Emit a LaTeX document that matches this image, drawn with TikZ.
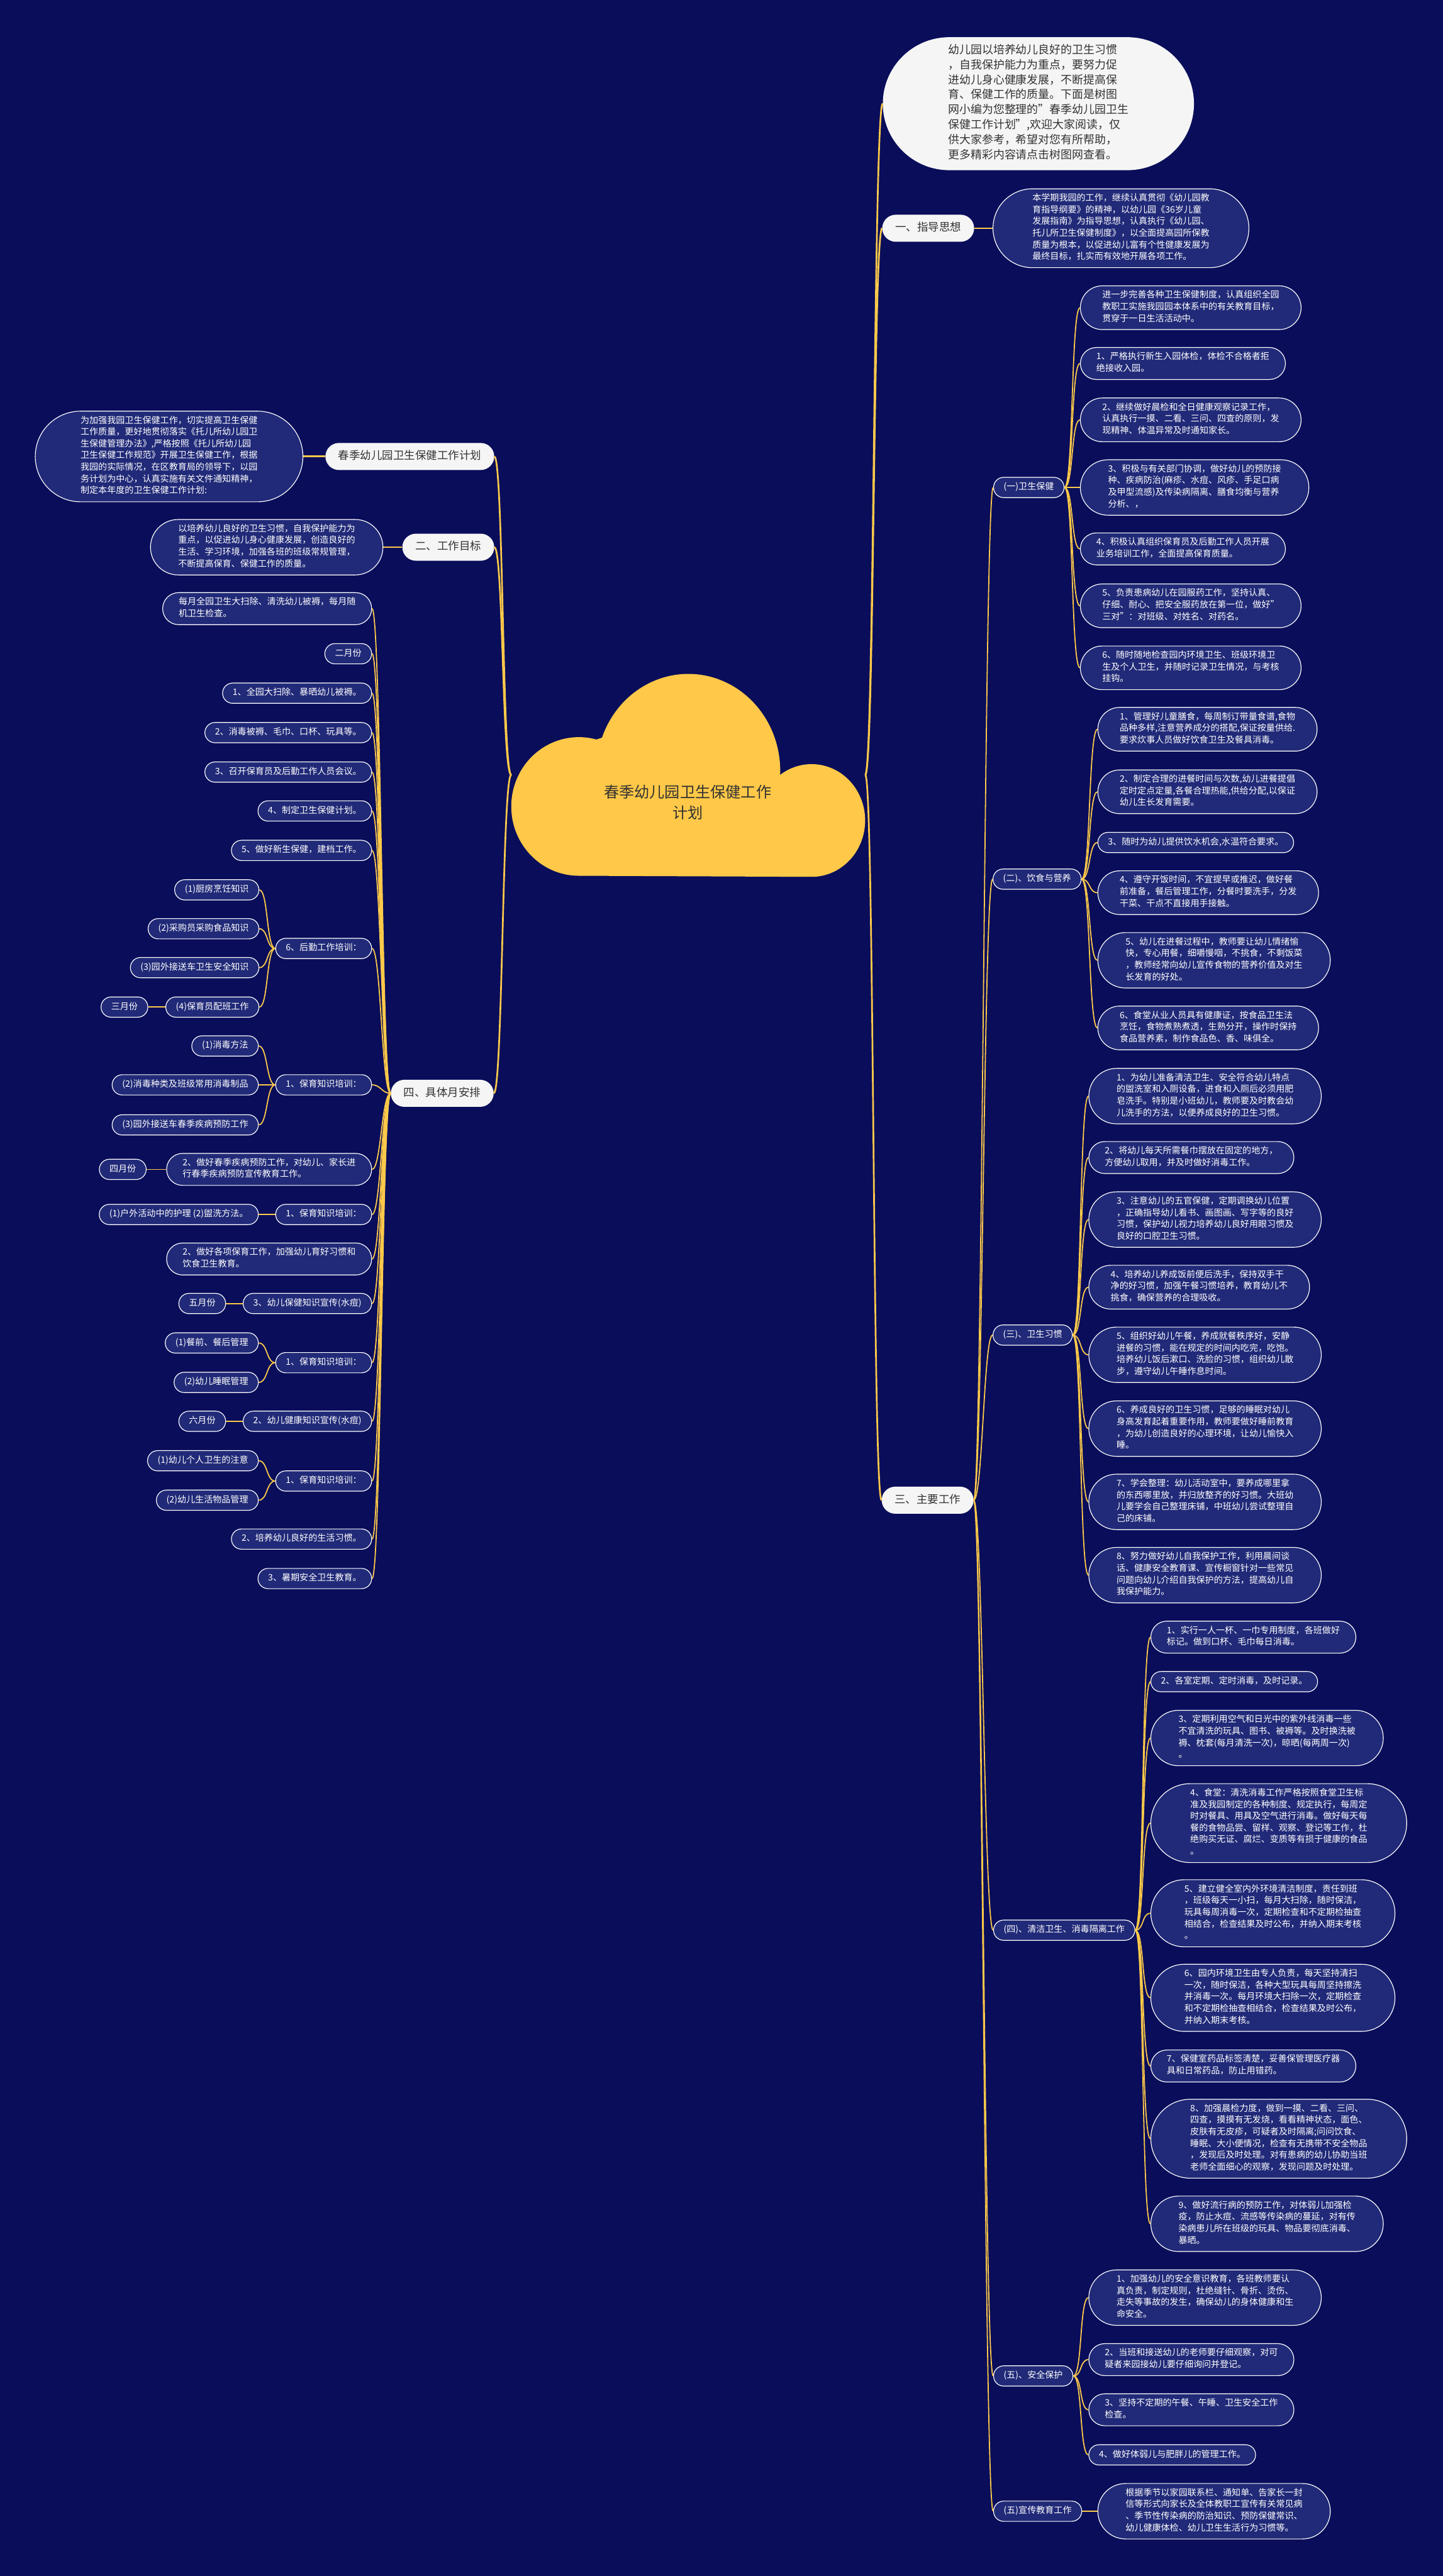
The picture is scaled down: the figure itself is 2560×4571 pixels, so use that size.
\documentclass[tikz,border=0pt]{standalone}
\usepackage{fontspec}
\setmainfont{Noto Sans CJK SC}
\definecolor{bgnavy}{RGB}{9,13,90}
\definecolor{leafblue}{RGB}{33,42,120}
\definecolor{gold}{RGB}{252,201,74}
\definecolor{cloudgold}{RGB}{255,200,72}
\definecolor{topicgray}{RGB}{245,245,245}
\definecolor{inkgray}{RGB}{51,51,51}
\tikzset{
  nlines/.style={minimum height={15.2+20.8*#1}, rounded corners={7.6+10.4*#1}, inner xsep={7.6+10.4*#1}},
  leaf/.style={rectangle, draw=white, line width=1.3pt, fill=leafblue, text=white,
    inner ysep=7.6pt, align=left, font=\fontsize{15.7}{20.8}\selectfont,
    execute at begin node=\strut, execute at end node=\strut, nlines=1},
  rleaf/.style={leaf, anchor=west},
  lleaf/.style={leaf, anchor=east},
  topic/.style={rectangle, fill=topicgray, text=inkgray, inner ysep=11pt, inner xsep=23pt,
    rounded corners=24pt, minimum height=48pt, align=left, font=\fontsize{19.5}{26}\selectfont,
    execute at begin node=\strut, execute at end node=\strut},
  intro/.style={topic, inner xsep=116pt, rounded corners=118pt, minimum height=236pt,
    font=\fontsize{20}{26.7}\selectfont},
  twig/.style={draw=gold, line width=2pt, to path={.. controls +(16,0) and +(-16,0) .. (\tikztotarget)}},
  twigl/.style={draw=gold, line width=2pt, to path={.. controls +(-16,0) and +(16,0) .. (\tikztotarget)}},
  trunk/.style={line width=3pt},
}
\begin{document}
\begin{tikzpicture}[x=1pt,y=1pt]
  \fill[bgnavy] (0,0) rectangle (2560,-4571);
  \useasboundingbox (0,0) rectangle (2560,-4571);

  % central cloud
  \fill[cloudgold] (1027,-1554) arc[start angle=270, end angle=75, x radius=120, y radius=123]
    -- (1068,-1309) arc[start angle=160, end angle=0, x radius=163, y radius=172]
    -- (1384,-1375) arc[start angle=126, end angle=-90, x radius=95, y radius=100] -- cycle;
  \node[font=\fontsize{27}{37}\selectfont, text=inkgray, align=center] (root) at (1220,-1424) {春季幼儿园卫生保健工作\\计划};
  \coordinate (rootL) at (907,-1375);
  \coordinate (rootR) at (1535,-1375);

  % right side
  \node[intro, anchor=west] (intro) at (1566,-184) {幼儿园以培养幼儿良好的卫生习惯\\，自我保护能力为重点，要努力促\\进幼儿身心健康发展，不断提高保\\育、保健工作的质量。下面是树图\\网小编为您整理的"春季幼儿园卫生\\保健工作计划",欢迎大家阅读，仅\\供大家参考，希望对您有所帮助，\\更多精彩内容请点击树图网查看。};
  \node[topic, anchor=west] (g1) at (1565,-405) {一、指导思想};
  \node[rleaf, nlines=6] (g1a) at (1761,-405) {本学期我园的工作，继续认真贯彻《幼儿园教\\育指导纲要》的精神，以幼儿园《36岁儿童\\发展指南》为指导思想，认真执行《幼儿园、\\托儿所卫生保健制度》，以全面提高园所保教\\质量为根本，以促进幼儿富有个性健康发展为\\最终目标，扎实而有效地开展各项工作。};
  \node[topic, anchor=west] (g3) at (1564,-2662) {三、主要工作};

  \node[rleaf] (s1) at (1762,-865) {(一)卫生保健};
  \node[rleaf, nlines=3] (s1a) at (1916,-546) {进一步完善各种卫生保健制度，认真组织全园\\教职工实施我园园本体系中的有关教育目标，\\贯穿于一日生活活动中。};
  \node[rleaf, nlines=2] (s1b) at (1916,-645) {1、严格执行新生入园体检，体检不合格者拒\\绝接收入园。};
  \node[rleaf, nlines=3] (s1c) at (1916,-745) {2、继续做好晨检和全日健康观察记录工作，\\认真执行一摸、二看、三问、四查的原则，发\\现精神、体温异常及时通知家长。};
  \node[rleaf, nlines=4] (s1d) at (1916,-865) {3、积极与有关部门协调，做好幼儿的预防接\\种、疾病防治(麻疹、水痘、风疹、手足口病\\及甲型流感)及传染病隔离、膳食均衡与营养\\分析、，};
  \node[rleaf, nlines=2] (s1e) at (1916,-974) {4、积极认真组织保育员及后勤工作人员开展\\业务培训工作，全面提高保育质量。};
  \node[rleaf, nlines=3] (s1f) at (1916,-1075) {5、负责患病幼儿在园服药工作，坚持认真、\\仔细、耐心、把安全服药放在第一位，做好"\\三对"：对班级、对姓名、对药名。};
  \node[rleaf, nlines=3] (s1g) at (1916,-1185) {6、随时随地检查园内环境卫生、班级环境卫\\生及个人卫生，并随时记录卫生情况，与考核\\挂钩。};

  \node[rleaf] (s2) at (1761,-1560) {(二)、饮食与营养};
  \node[rleaf, nlines=3] (s2a) at (1947,-1294) {1、管理好儿童膳食，每周制订带量食谱,食物\\品种多样,注意营养成分的搭配,保证按量供给.\\要求炊事人员做好饮食卫生及餐具消毒。};
  \node[rleaf, nlines=3] (s2b) at (1947,-1405) {2、制定合理的进餐时间与次数,幼儿进餐提倡\\定时定点定量,各餐合理热能,供给分配,以保证\\幼儿生长发育需要。};
  \node[rleaf] (s2c) at (1947,-1495) {3、随时为幼儿提供饮水机会,水温符合要求。};
  \node[rleaf, nlines=3] (s2d) at (1947,-1584) {4、遵守开饭时间，不宜提早或推迟，做好餐\\前准备，餐后管理工作，分餐时要洗手，分发\\干菜、干点不直接用手接触。};
  \node[rleaf, nlines=4] (s2e) at (1947,-1704) {5、幼儿在进餐过程中，教师要让幼儿情绪愉\\快，专心用餐，细嚼慢咽，不挑食，不剩饭菜\\，教师经常向幼儿宣传食物的营养价值及对生\\长发育的好处。};
  \node[rleaf, nlines=3] (s2f) at (1947,-1824) {6、食堂从业人员具有健康证，按食品卫生法\\烹饪，食物煮熟煮透，生熟分开，操作时保持\\食品营养素，制作食品色、香、味俱全。};

  \node[rleaf] (s3) at (1761,-2369) {(三)、卫生习惯};
  \node[rleaf, nlines=4] (s3a) at (1931,-1945) {1、为幼儿准备清洁卫生、安全符合幼儿特点\\的盥洗室和入厕设备，进食和入厕后必须用肥\\皂洗手。特别是小班幼儿，教师要及时教会幼\\儿洗手的方法，以便养成良好的卫生习惯。};
  \node[rleaf, nlines=2] (s3b) at (1931,-2054) {2、将幼儿每天所需餐巾摆放在固定的地方，\\方便幼儿取用，并及时做好消毒工作。};
  \node[rleaf, nlines=4] (s3c) at (1931,-2164) {3、注意幼儿的五官保健，定期调换幼儿位置\\，正确指导幼儿看书、画图画、写字等的良好\\习惯，保护幼儿视力培养幼儿良好用眼习惯及\\良好的口腔卫生习惯。};
  \node[rleaf, nlines=3] (s3d) at (1931,-2284) {4、培养幼儿养成饭前便后洗手，保持双手干\\净的好习惯，加强午餐习惯培养，教育幼儿不\\挑食，确保营养的合理吸收。};
  \node[rleaf, nlines=4] (s3e) at (1931,-2404) {5、组织好幼儿午餐，养成就餐秩序好，安静\\进餐的习惯，能在规定的时间内吃完，吃饱。\\培养幼儿饭后漱口、洗脸的习惯，组织幼儿散\\步，遵守幼儿午睡作息时间。};
  \node[rleaf, nlines=4] (s3f) at (1931,-2535) {6、养成良好的卫生习惯，足够的睡眠对幼儿\\身高发育起着重要作用，教师要做好睡前教育\\，为幼儿创造良好的心理环境，让幼儿愉快入\\睡。};
  \node[rleaf, nlines=4] (s3g) at (1931,-2665) {7、学会整理：幼儿活动室中，要养成哪里拿\\的东西哪里放，并归放整齐的好习惯。大班幼\\儿要学会自己整理床铺，中班幼儿尝试整理自\\己的床铺。};
  \node[rleaf, nlines=4] (s3h) at (1931,-2795) {8、努力做好幼儿自我保护工作，利用晨间谈\\话、健康安全教育课、宣传橱窗针对一些常见\\问题向幼儿介绍自我保护的方法，提高幼儿自\\我保护能力。};

  \node[rleaf] (s4) at (1762,-3425) {(四)、清洁卫生、消毒隔离工作};
  \node[rleaf, nlines=2] (s4a) at (2041,-2905) {1、实行一人一杯、一巾专用制度，各班做好\\标记。做到口杯、毛巾每日消毒。};
  \node[rleaf] (s4b) at (2041,-2984) {2、各室定期、定时消毒，及时记录。};
  \node[rleaf, nlines=4] (s4c) at (2041,-3084) {3、定期利用空气和日光中的紫外线消毒一些\\不宜清洗的玩具、图书、被褥等。及时换洗被\\褥、枕套(每月清洗一次)，晾晒(每两周一次)\\。};
  \node[rleaf, nlines=6] (s4d) at (2041,-3235) {4、食堂：清洗消毒工作严格按照食堂卫生标\\准及我园制定的各种制度、规定执行，每周定\\时对餐具、用具及空气进行消毒。做好每天每\\餐的食物品尝、留样、观察、登记等工作，杜\\绝购买无证、腐烂、变质等有损于健康的食品\\。};
  \node[rleaf, nlines=5] (s4e) at (2041,-3395) {5、建立健全室内外环境清洁制度，责任到班\\，班级每天一小扫，每月大扫除，随时保洁，\\玩具每周消毒一次，定期检查和不定期检抽查\\相结合，检查结果及时公布，并纳入期末考核\\。};
  \node[rleaf, nlines=5] (s4f) at (2041,-3545) {6、园内环境卫生由专人负责，每天坚持清扫\\一次，随时保洁，各种大型玩具每周坚持擦洗\\并消毒一次。每月环境大扫除一次，定期检查\\和不定期检抽查相结合，检查结果及时公布，\\并纳入期末考核。};
  \node[rleaf, nlines=2] (s4g) at (2041,-3666) {7、保健室药品标签清楚，妥善保管理医疗器\\具和日常药品，防止用错药。};
  \node[rleaf, nlines=6] (s4h) at (2041,-3795) {8、加强晨检力度，做到一摸、二看、三问、\\四查，摸摸有无发烧，看看精神状态，面色、\\皮肤有无皮疹，可疑者及时隔离;问问饮食、\\睡眠、大小便情况，检查有无携带不安全物品\\，发现后及时处理。对有患病的幼儿协助当班\\老师全面细心的观察，发现问题及时处理。};
  \node[rleaf, nlines=4] (s4i) at (2041,-3946) {9、做好流行病的预防工作，对体弱儿加强检\\疫，防止水痘、流感等传染病的蔓延，对有传\\染病患儿所在班级的玩具、物品要彻底消毒、\\暴晒。};

  \node[rleaf] (s5) at (1762,-4216) {(五)、安全保护};
  \node[rleaf, nlines=4] (s5a) at (1931,-4077) {1、加强幼儿的安全意识教育，各班教师要认\\真负责，制定规则，杜绝缝针、骨折、烫伤、\\走失等事故的发生，确保幼儿的身体健康和生\\命安全。};
  \node[rleaf, nlines=2] (s5b) at (1931,-4187) {2、当班和接送幼儿的老师要仔细观察，对可\\疑者来园接幼儿要仔细询问并登记。};
  \node[rleaf, nlines=2] (s5c) at (1931,-4276) {3、坚持不定期的午餐、午睡、卫生安全工作\\检查。};
  \node[rleaf] (s5d) at (1931,-4356) {4、做好体弱儿与肥胖儿的管理工作。};

  \node[rleaf] (s6) at (1762,-4456) {(五)宣传教育工作};
  \node[rleaf, nlines=4] (s6a) at (1947,-4456) {根据季节以家园联系栏、通知单、告家长一封\\信等形式向家长及全体教职工宣传有关常见病\\、季节性传染病的防治知识、预防保健常识、\\幼儿健康体检、幼儿卫生生活行为习惯等。};

  % left side
  \node[topic, anchor=east] (h0) at (877,-810) {春季幼儿园卫生保健工作计划};
  \node[lleaf, nlines=7] (h0a) at (538,-810) {为加强我园卫生保健工作，切实提高卫生保健\\工作质量，更好地贯彻落实《托儿所幼儿园卫\\生保健管理办法》,严格按照《托儿所幼儿园\\卫生保健工作规范》开展卫生保健工作，根据\\我园的实际情况，在区教育局的领导下，以园\\务计划为中心，认真实施有关文件通知精神，\\制定本年度的卫生保健工作计划:};
  \node[topic, anchor=east] (g2) at (877,-971) {二、工作目标};
  \node[lleaf, nlines=4] (g2a) at (680,-971) {以培养幼儿良好的卫生习惯，自我保护能力为\\重点，以促进幼儿身心健康发展，创造良好的\\生活、学习环境，加强各班的班级常规管理，\\不断提高保育、保健工作的质量。};
  \node[topic, anchor=east] (g4) at (876,-1940) {四、具体月安排};

  \node[lleaf, nlines=2] (m0) at (660,-1080) {每月全园卫生大扫除、清洗幼儿被褥，每月随\\机卫生检查。};
  \node[lleaf] (m1) at (660,-1160) {二月份};
  \node[lleaf] (m2) at (660,-1230) {1、全园大扫除、暴晒幼儿被褥。};
  \node[lleaf] (m3) at (660,-1300) {2、消毒被褥、毛巾、口杯、玩具等。};
  \node[lleaf] (m4) at (660,-1370) {3、召开保育员及后勤工作人员会议。};
  \node[lleaf] (m5) at (660,-1439) {4、制定卫生保健计划。};
  \node[lleaf] (m6) at (660,-1509) {5、做好新生保健，建档工作。};
  \node[lleaf] (m7) at (660,-1683) {6、后勤工作培训：};
  \node[lleaf] (m7a) at (460,-1579) {(1)厨房烹饪知识};
  \node[lleaf] (m7b) at (460,-1648) {(2)采购员采购食品知识};
  \node[lleaf] (m7c) at (460,-1717) {(3)园外接送车卫生安全知识};
  \node[lleaf] (m7d) at (460,-1787) {(4)保育员配班工作};
  \node[lleaf] (m7e) at (263,-1787) {三月份};

  \node[lleaf] (a1) at (660,-1925) {1、保育知识培训：};
  \node[lleaf] (a1a) at (459,-1856) {(1)消毒方法};
  \node[lleaf] (a1b) at (459,-1925) {(2)消毒种类及班级常用消毒制品};
  \node[lleaf] (a1c) at (459,-1996) {(3)园外接送车春季疾病预防工作};
  \node[lleaf, nlines=2] (a2) at (660,-2075) {2、做好春季疾病预防工作，对幼儿、家长进\\行春季疾病预防宣传教育工作。};
  \node[lleaf] (a2a) at (260,-2075) {四月份};
  \node[lleaf] (b1) at (660,-2155) {1、保育知识培训：};
  \node[lleaf] (b1a) at (459,-2155) {(1)户外活动中的护理 (2)盥洗方法。};
  \node[lleaf, nlines=2] (b2) at (660,-2234) {2、做好各项保育工作，加强幼儿育好习惯和\\饮食卫生教育。};
  \node[lleaf] (b3) at (660,-2313) {3、幼儿保健知识宣传(水痘)};
  \node[lleaf] (b3a) at (401,-2313) {五月份};
  \node[lleaf] (c1) at (660,-2418) {1、保育知识培训：};
  \node[lleaf] (c1a) at (459,-2383) {(1)餐前、餐后管理};
  \node[lleaf] (c1b) at (459,-2453) {(2)幼儿睡眠管理};
  \node[lleaf] (c2) at (660,-2522) {2、幼儿健康知识宣传(水痘)};
  \node[lleaf] (c2a) at (401,-2522) {六月份};
  \node[lleaf] (d1) at (660,-2628) {1、保育知识培训：};
  \node[lleaf] (d1a) at (459,-2592) {(1)幼儿个人卫生的注意};
  \node[lleaf] (d1b) at (459,-2662) {(2)幼儿生活物品管理};
  \node[lleaf] (d2) at (660,-2731) {2、培养幼儿良好的生活习惯。};
  \node[lleaf] (d3) at (660,-2801) {3、暑期安全卫生教育。};

  % connectors, right
  \draw[twig, trunk] (rootR) to (intro.west);
  \draw[twig, trunk] (rootR) to (g1.west);
  \draw[twig, trunk] (rootR) to (g3.west);
  \draw[twig, trunk] (g1.east) to (g1a.west);
  \draw[twig] (g3.east) to (s1.west);
  \draw[twig] (g3.east) to (s2.west);
  \draw[twig] (g3.east) to (s3.west);
  \draw[twig] (g3.east) to (s4.west);
  \draw[twig] (g3.east) to (s5.west);
  \draw[twig] (g3.east) to (s6.west);
  \draw[twig] (s1.east) to (s1a.west);
  \draw[twig] (s1.east) to (s1b.west);
  \draw[twig] (s1.east) to (s1c.west);
  \draw[twig] (s1.east) to (s1d.west);
  \draw[twig] (s1.east) to (s1e.west);
  \draw[twig] (s1.east) to (s1f.west);
  \draw[twig] (s1.east) to (s1g.west);
  \draw[twig] (s2.east) to (s2a.west);
  \draw[twig] (s2.east) to (s2b.west);
  \draw[twig] (s2.east) to (s2c.west);
  \draw[twig] (s2.east) to (s2d.west);
  \draw[twig] (s2.east) to (s2e.west);
  \draw[twig] (s2.east) to (s2f.west);
  \draw[twig] (s3.east) to (s3a.west);
  \draw[twig] (s3.east) to (s3b.west);
  \draw[twig] (s3.east) to (s3c.west);
  \draw[twig] (s3.east) to (s3d.west);
  \draw[twig] (s3.east) to (s3e.west);
  \draw[twig] (s3.east) to (s3f.west);
  \draw[twig] (s3.east) to (s3g.west);
  \draw[twig] (s3.east) to (s3h.west);
  \draw[twig] (s4.east) to (s4a.west);
  \draw[twig] (s4.east) to (s4b.west);
  \draw[twig] (s4.east) to (s4c.west);
  \draw[twig] (s4.east) to (s4d.west);
  \draw[twig] (s4.east) to (s4e.west);
  \draw[twig] (s4.east) to (s4f.west);
  \draw[twig] (s4.east) to (s4g.west);
  \draw[twig] (s4.east) to (s4h.west);
  \draw[twig] (s4.east) to (s4i.west);
  \draw[twig] (s5.east) to (s5a.west);
  \draw[twig] (s5.east) to (s5b.west);
  \draw[twig] (s5.east) to (s5c.west);
  \draw[twig] (s5.east) to (s5d.west);
  \draw[twig] (s6.east) to (s6a.west);

  % connectors, left
  \draw[twigl, trunk] (rootL) to (h0.east);
  \draw[twigl, trunk] (rootL) to (g2.east);
  \draw[twigl, trunk] (rootL) to (g4.east);
  \draw[twigl, trunk] (h0.west) to (h0a.east);
  \draw[twigl, trunk] (g2.west) to (g2a.east);
  \draw[twigl] (g4.west) to (m0.east);
  \draw[twigl] (g4.west) to (m1.east);
  \draw[twigl] (g4.west) to (m2.east);
  \draw[twigl] (g4.west) to (m3.east);
  \draw[twigl] (g4.west) to (m4.east);
  \draw[twigl] (g4.west) to (m5.east);
  \draw[twigl] (g4.west) to (m6.east);
  \draw[twigl] (g4.west) to (m7.east);
  \draw[twigl] (g4.west) to (a1.east);
  \draw[twigl] (g4.west) to (a2.east);
  \draw[twigl] (g4.west) to (b1.east);
  \draw[twigl] (g4.west) to (b2.east);
  \draw[twigl] (g4.west) to (b3.east);
  \draw[twigl] (g4.west) to (c1.east);
  \draw[twigl] (g4.west) to (c2.east);
  \draw[twigl] (g4.west) to (d1.east);
  \draw[twigl] (g4.west) to (d2.east);
  \draw[twigl] (g4.west) to (d3.east);
  \draw[twigl] (m7.west) to (m7a.east);
  \draw[twigl] (m7.west) to (m7b.east);
  \draw[twigl] (m7.west) to (m7c.east);
  \draw[twigl] (m7.west) to (m7d.east);
  \draw[twigl] (m7d.west) to (m7e.east);
  \draw[twigl] (a1.west) to (a1a.east);
  \draw[twigl] (a1.west) to (a1b.east);
  \draw[twigl] (a1.west) to (a1c.east);
  \draw[twigl] (a2.west) to (a2a.east);
  \draw[twigl] (b1.west) to (b1a.east);
  \draw[twigl] (b3.west) to (b3a.east);
  \draw[twigl] (c1.west) to (c1a.east);
  \draw[twigl] (c1.west) to (c1b.east);
  \draw[twigl] (c2.west) to (c2a.east);
  \draw[twigl] (d1.west) to (d1a.east);
  \draw[twigl] (d1.west) to (d1b.east);
\end{tikzpicture}
\end{document}
